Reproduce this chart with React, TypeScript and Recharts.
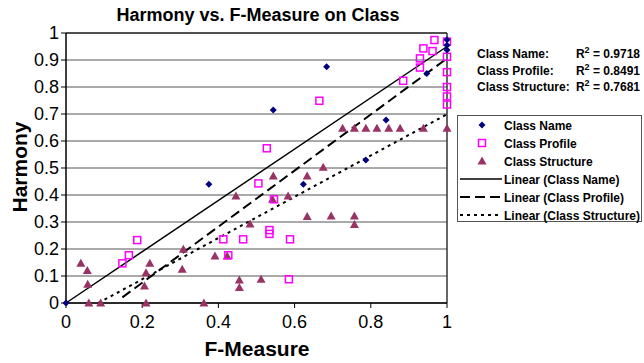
import React from "react";
import {
  CartesianGrid,
  ReferenceLine,
  Scatter,
  ScatterChart,
  XAxis,
  YAxis,
} from "recharts";

// values
const nameX = [0, 0.375, 0.544, 0.623, 0.684, 0.787, 0.84, 0.947, 1, 1, 1];
const nameY = [0, 0.44, 0.715, 0.44, 0.875, 0.53, 0.678, 0.85, 0.975, 0.955, 0.937];

const profileX = [
  0.148, 0.165, 0.187, 0.413, 0.426, 0.465, 0.505, 0.527, 0.534, 0.534, 0.546,
  0.588, 0.585, 0.665, 0.885, 0.929, 0.929, 0.938, 0.962, 0.967, 1, 1, 1, 1, 1, 1,
];
const profileY = [
  0.147, 0.177, 0.233, 0.236, 0.177, 0.236, 0.443, 0.573, 0.27, 0.256, 0.384,
  0.236, 0.088, 0.749, 0.823, 0.906, 0.872, 0.943, 0.933, 0.974, 0.968, 0.912,
  0.855, 0.8, 0.765, 0.735,
];

const structureX = [
  0.039, 0.056, 0.057, 0.06, 0.091, 0.22, 0.21, 0.206, 0.21, 0.308, 0.305, 0.362,
  0.391, 0.423, 0.446, 0.455, 0.455, 0.483, 0.512, 0.542, 0.544, 0.583, 0.633,
  0.633, 0.675, 0.696, 0.757, 0.757, 0.726, 0.757, 0.787, 0.816, 0.847, 0.877,
  0.938, 1,
];
const structureY = [
  0.147, 0.12, 0.069, 0, 0, 0.147, 0.112, 0.063, 0, 0.199, 0.125, 0, 0.174, 0.174,
  0.396, 0.085, 0.057, 0.293, 0.088, 0.384, 0.47, 0.396, 0.47, 0.32, 0.503,
  0.322, 0.322, 0.291, 0.647, 0.647, 0.647, 0.647, 0.647, 0.647, 0.647, 0.647,
];

// trendline end points as drawn in the picture
const nameFitX = [0, 1];
const nameFitY = [0, 0.95];
const profileFitX = [0.148, 1];
const profileFitY = [0.021, 0.906];
const structureFitX = [0.085, 1];
const structureFitY = [0, 0.699];

const xTicks = [0, 0.2, 0.4, 0.6, 0.8, 1];
const yTicks = [0, 0.1, 0.2, 0.3, 0.4, 0.5, 0.6, 0.7, 0.8, 0.9, 1];

const rLabels = ["Class Name:", "Class Profile:", "Class Structure:"];
const rValues = ["0.9718", "0.8491", "0.7681"];

const toPoints = (xs: number[], ys: number[]) =>
  xs.map((x, i) => ({ x, y: ys[i] }));

const FONT = "'Liberation Sans', Arial, sans-serif";
const NAVY = "#000080";
const MAGENTA = "#ff00ff";
const PLUM = "#993366";

const PROFILE_DASH = "10 5";
const STRUCTURE_DASH = "3 4";

function Diamond({ cx, cy }: { cx?: number; cy?: number }) {
  if (cx == null || cy == null) return <g />;
  return (
    <path
      d={`M${cx},${cy - 3.5}L${cx + 3.5},${cy}L${cx},${cy + 3.5}L${cx - 3.5},${cy}Z`}
      fill={NAVY}
    />
  );
}

function Square({ cx, cy }: { cx?: number; cy?: number }) {
  if (cx == null || cy == null) return <g />;
  return (
    <rect
      x={cx - 3.5}
      y={cy - 3.5}
      width={7}
      height={7}
      fill="none"
      stroke={MAGENTA}
      strokeWidth={1.5}
    />
  );
}

function Triangle({ cx, cy }: { cx?: number; cy?: number }) {
  if (cx == null || cy == null) return <g />;
  return (
    <path
      d={`M${cx},${cy - 4.5}L${cx + 4.5},${cy + 3.5}L${cx - 4.5},${cy + 3.5}Z`}
      fill={PLUM}
    />
  );
}

const NoDot = () => <g />;

function Overlay() {
  const legendRows = [
    "Class Name",
    "Class Profile",
    "Class Structure",
    "Linear (Class Name)",
    "Linear (Class Profile)",
    "Linear (Class Structure)",
  ];
  const rowY = (i: number) => 125 + i * 18;
  return (
    <svg
      width={644}
      height={363}
      style={{ position: "absolute", left: 0, top: 0, pointerEvents: "none" }}
      fontFamily={FONT}
    >
      <text x={258} y={21} textAnchor="middle" fontSize={18} fontWeight="bold">
        Harmony vs. F-Measure on Class
      </text>
      <text x={257} y={356} textAnchor="middle" fontSize={21} fontWeight="bold">
        F-Measure
      </text>
      <text
        x={0}
        y={0}
        transform="translate(27,167) rotate(-90)"
        textAnchor="middle"
        fontSize={21}
        fontWeight="bold"
      >
        Harmony
      </text>

      {rLabels.map((label, i) => {
        const y = 58 + i * 16.5;
        return (
          <g key={label} fontSize={12} fontWeight="bold">
            <text x={477} y={y}>{label}</text>
            <text x={640} y={y} textAnchor="end">
              R<tspan dy={-5} fontSize={9}>2</tspan>
              <tspan dy={5}>{` = ${rValues[i]}`}</tspan>
            </text>
          </g>
        );
      })}

      <rect x={457.5} y={115.5} width={184} height={106} fill="#fff" stroke="#555" />
      <path d={`M${482},${rowY(0) - 3.5}l3.5,3.5l-3.5,3.5l-3.5,-3.5Z`} fill={NAVY} />
      <rect x={478.5} y={rowY(1) - 3.5} width={7} height={7} fill="none" stroke={MAGENTA} strokeWidth={1.5} />
      <path d={`M${482},${rowY(2) - 4.5}l4.5,8l-9,0Z`} fill={PLUM} />
      <line x1={460} x2={502} y1={rowY(3)} y2={rowY(3)} stroke="#000" strokeWidth={1.5} />
      <line x1={460} x2={502} y1={rowY(4)} y2={rowY(4)} stroke="#000" strokeWidth={2} strokeDasharray={PROFILE_DASH} />
      <line x1={460} x2={502} y1={rowY(5)} y2={rowY(5)} stroke="#000" strokeWidth={2} strokeDasharray={STRUCTURE_DASH} />
      {legendRows.map((t, i) => (
        <text key={t} x={504} y={rowY(i) + 4.5} fontSize={12} fontWeight="bold">
          {t}
        </text>
      ))}
    </svg>
  );
}

export default function App() {
  return (
    <div
      style={{
        position: "absolute",
        left: 0,
        top: 0,
        width: 644,
        height: 363,
        background: "#fff",
        fontFamily: FONT,
      }}
    >
      <ScatterChart
        width={644}
        height={363}
        margin={{ top: 33, right: 197, bottom: 0, left: 0 }}
      >
        <CartesianGrid horizontal vertical={false} stroke="#555" />
        <XAxis
          dataKey="x"
          type="number"
          domain={[0, 1]}
          ticks={xTicks}
          tickFormatter={(v: number) => String(v)}
          tick={{ fontSize: 18, fill: "#000", fontFamily: FONT }}
          tickSize={5}
          tickMargin={7}
          tickLine={{ stroke: "#000" }}
          axisLine={{ stroke: "#000", strokeWidth: 1.5 }}
          height={60}
        />
        <YAxis
          dataKey="y"
          type="number"
          domain={[0, 1]}
          ticks={yTicks}
          tickFormatter={(v: number) => String(v)}
          tick={{ fontSize: 18, fill: "#000", fontFamily: FONT }}
          tickSize={5}
          tickMargin={2}
          tickLine={{ stroke: "#000" }}
          axisLine={{ stroke: "#000", strokeWidth: 1.5 }}
          width={66}
        />
        <ReferenceLine x={1} stroke="#333" strokeWidth={1.5} />
        <ReferenceLine y={1} stroke="#333" strokeWidth={1.5} />

        <Scatter
          data={toPoints(nameFitX, nameFitY)}
          line={{ stroke: "#000", strokeWidth: 1.5 }}
          shape={NoDot}
          isAnimationActive={false}
        />
        <Scatter
          data={toPoints(profileFitX, profileFitY)}
          line={{ stroke: "#000", strokeWidth: 2, strokeDasharray: PROFILE_DASH }}
          shape={NoDot}
          isAnimationActive={false}
        />
        <Scatter
          data={toPoints(structureFitX, structureFitY)}
          line={{ stroke: "#000", strokeWidth: 2, strokeDasharray: STRUCTURE_DASH }}
          shape={NoDot}
          isAnimationActive={false}
        />

        <Scatter
          data={toPoints(structureX, structureY)}
          shape={Triangle}
          isAnimationActive={false}
        />
        <Scatter
          data={toPoints(profileX, profileY)}
          shape={Square}
          isAnimationActive={false}
        />
        <Scatter
          data={toPoints(nameX, nameY)}
          shape={Diamond}
          isAnimationActive={false}
        />
      </ScatterChart>
      <Overlay />
    </div>
  );
}
